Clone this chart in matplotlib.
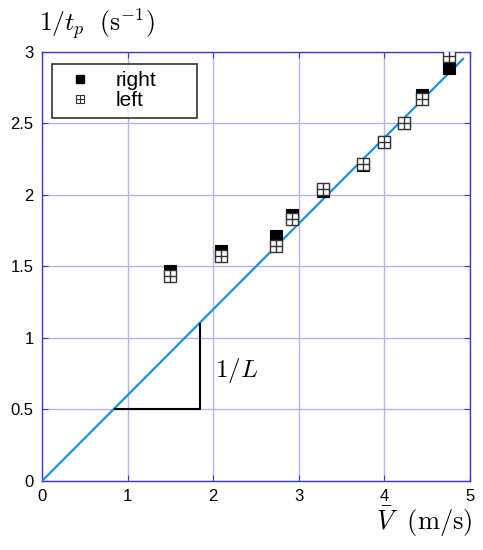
import numpy as np
import matplotlib
matplotlib.use("Agg")
import matplotlib.pyplot as plt

plt.rcParams['font.family'] = ['Liberation Sans', 'DejaVu Sans']
plt.rcParams['mathtext.fontset'] = 'cm'

# 数据：平均速度 V (m/s) 与 1/t_p (1/s)
v_pts = [1.50, 2.09, 2.73, 2.92, 3.28, 3.75, 4.00, 4.23, 4.44, 4.75]
right_vals = [1.47, 1.61, 1.71, 1.86, 2.03, 2.21, 2.37, 2.50, 2.70, 2.89]
left_vals = [1.43, 1.57, 1.64, 1.83, 2.04, 2.22, 2.37, 2.50, 2.67, 2.97]

# 拟合直线（斜率 1/L）
fit_v = [0.0, 4.92]
slope = 0.6
# 斜率三角形
tri_v = [0.85, 1.85]
tri_y = [0.50, 1.10]

x_ticks = [0, 1, 2, 3, 4, 5]
y_ticks = [0, 0.5, 1, 1.5, 2, 2.5, 3]
y_ticklabels = ['0', '0.5', '1', '1.5', '2', '2.5', '3']

axis_blue = '#3a3ad0'
grid_col = '#b4b4ec'

fig = plt.figure(figsize=(4.83, 5.5), dpi=100)
ax = fig.add_axes([0.087, 0.1255, 0.886, 0.78])

ax.plot(fit_v, [slope * v for v in fit_v], color='#1a90e0', lw=1.6, zorder=3)

# 三角形
ax.plot([tri_v[0], tri_v[1], tri_v[1]], [tri_y[0], tri_y[0], tri_y[1]],
        color='black', lw=1.5, zorder=3)
ax.text(2.02, 0.77, r'$1/L$', fontsize=18, va='center', ha='left')

ms = 8.4
ax.plot(v_pts, right_vals, 's', ms=ms, mfc='black', mec='black', mew=0.8,
        ls='none', zorder=4)
ax.plot(v_pts, left_vals, 's', ms=ms, mfc='white', mec='#333333', mew=1.0,
        ls='none', zorder=5)
ax.plot(v_pts, left_vals, '+', ms=ms, mec='#333333', mew=1.0,
        ls='none', zorder=6)

# 图例用的标记（比数据点略小）
lms = 5.5
h_left_sq, = ax.plot([], [], 's', ms=lms, mfc='white', mec='#333333', mew=0.8)
h_left_pl, = ax.plot([], [], '+', ms=lms, mec='#333333', mew=0.8)
h_right, = ax.plot([], [], 's', ms=lms, mfc='black', mec='black')
leg = ax.legend([h_right, (h_left_sq, h_left_pl)], ['right', 'left'],
                loc='upper left', bbox_to_anchor=(0.023, 0.972, 0.339, 0.0),
                mode='expand', fontsize=15, frameon=True, fancybox=False,
                handlelength=2.0, handletextpad=0.7, borderpad=0.35,
                labelspacing=0.05, borderaxespad=0.0)
leg.get_frame().set_edgecolor('black')
leg.get_frame().set_linewidth(1.2)

ax.set_xlim(0, 5)
ax.set_ylim(0, 3)
ax.set_xticks(x_ticks)
ax.set_yticks(y_ticks)
ax.set_yticklabels(y_ticklabels)
ax.grid(True, color=grid_col, lw=1.0)
ax.set_axisbelow(True)
for sp in ax.spines.values():
    sp.set_color(axis_blue)
    sp.set_linewidth(1.0)
ax.tick_params(direction='in', length=4, color=axis_blue, labelsize=12,
               top=True, right=True, labelcolor='black', pad=6)

fig.text(0.08, 0.956, r'$1/t_p\ \ (\mathrm{s}^{-1})$', fontsize=18.5,
         ha='left', va='center')
fig.text(0.977, 0.051, r'$\bar{V}\ \ (\mathrm{m/s})$', fontsize=19,
         ha='right', va='center')

fig.savefig('out.png', dpi=100)
